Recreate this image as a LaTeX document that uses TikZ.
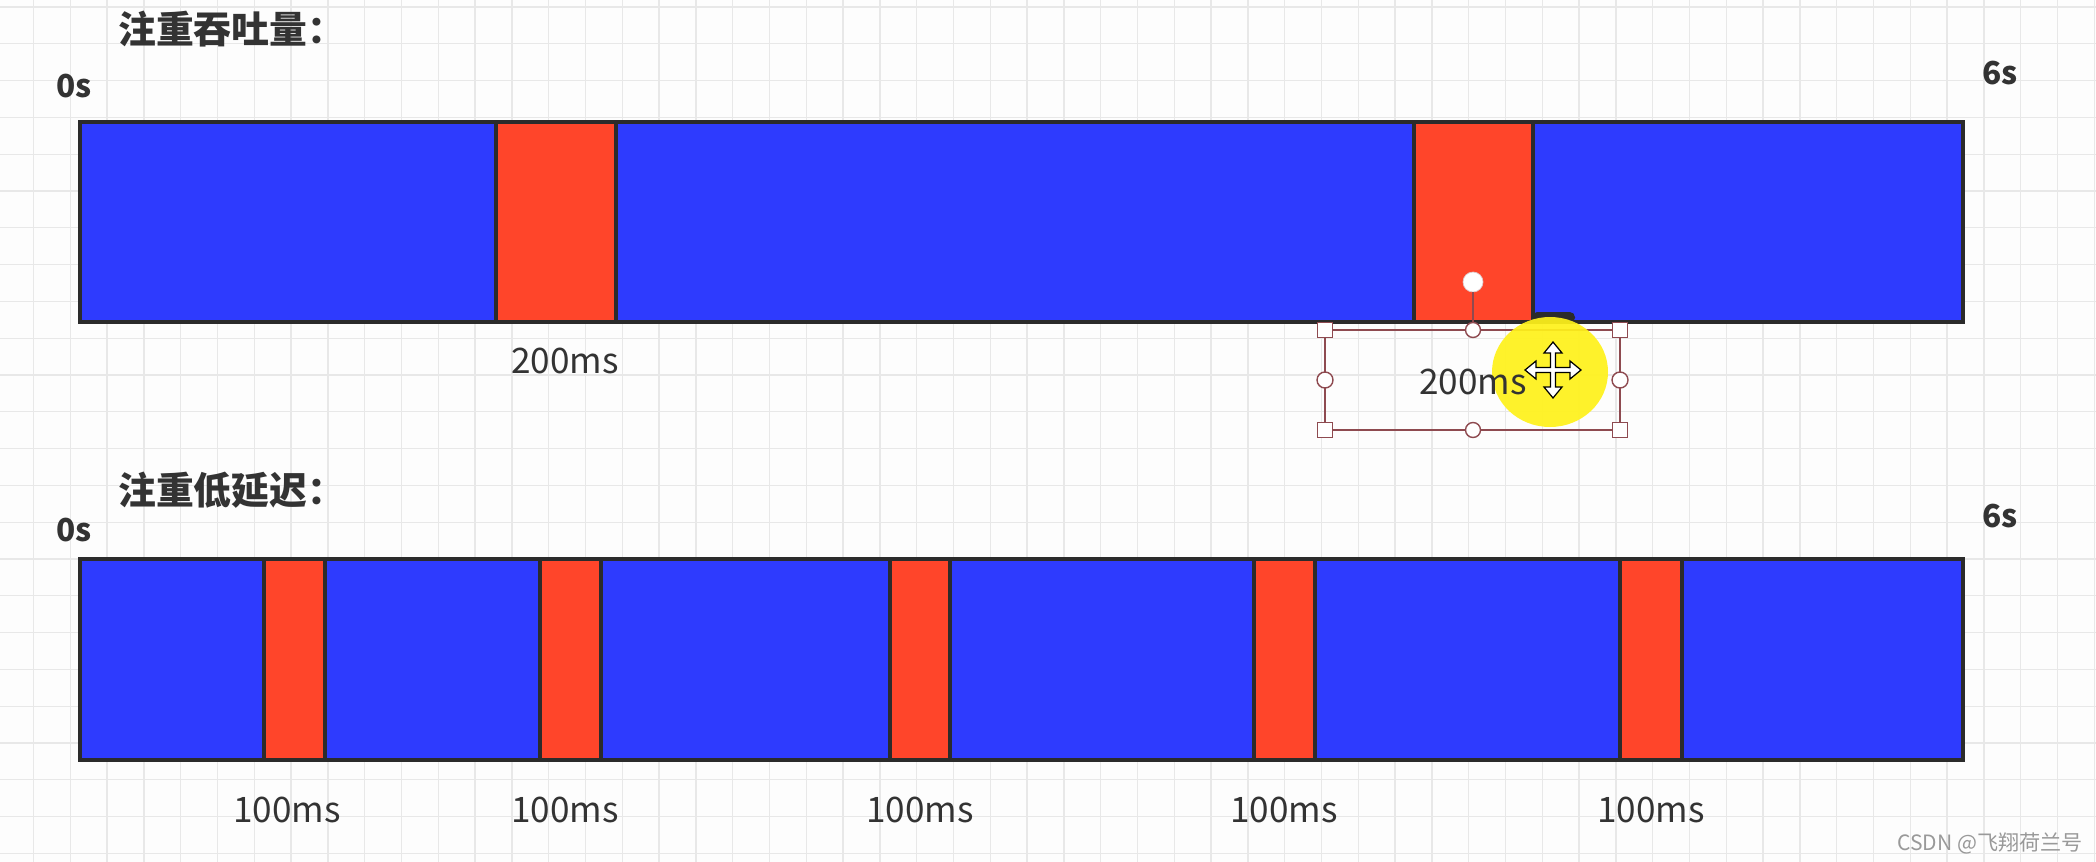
\documentclass[tikz,border=0pt]{standalone}
\usepackage{fontspec}
\setmainfont{Noto Sans CJK SC}
\usetikzlibrary{positioning}
\definecolor{PaperWhite}{HTML}{FDFDFD}
\definecolor{GridGray}{HTML}{E8E8E8}
\definecolor{BarBlue}{HTML}{2E3BFE}
\definecolor{PauseRed}{HTML}{FF452A}
\definecolor{EdgeDark}{HTML}{2B2B2B}
\definecolor{TextDark}{HTML}{333333}
\definecolor{HandleRed}{HTML}{8E4A50}
\definecolor{MarkYellow}{HTML}{FFF21A}

\begin{document}
\begin{tikzpicture}[
  x=0.02cm, y=-0.02cm,
  gridline/.style={draw=GridGray, line width=0.75pt},
  runbar/.style={fill=BarBlue, draw=EdgeDark, line width=2.2pt},
  pausebox/.style={fill=PauseRed, draw=EdgeDark, line width=2pt},
  title/.style={font=\bfseries\fontsize{21.5}{25}\selectfont, text=TextDark, anchor=west, inner sep=0pt},
  tick/.style={font=\bfseries\fontsize{18}{22}\selectfont, text=TextDark, inner sep=0pt},
  dur/.style={font=\fontsize{20}{24}\selectfont, text=TextDark, inner sep=0pt},
  frame/.style={draw=HandleRed, line width=0.8pt},
  handle/.style={frame, fill=white, inner sep=0pt, minimum size=0.3cm}
]
\useasboundingbox[fill=PaperWhite] (0,0) rectangle (2096,862);
% background grid
\foreach \k in {0,...,56}
  \draw[gridline] ({33.5+36.8*\k},0) -- ({33.5+36.8*\k},862);
\foreach \k in {0,...,23}
  \draw[gridline] (0,{7+36.8*\k}) -- (2096,{7+36.8*\k});

% throughput first
\node[title] (thrputTitle) at (118,29) {注重吞吐量：};
\node[tick] (zeroTop) at (74,86) {0s};
\node[tick] (sixTop) at (2000,73) {6s};
\draw[runbar] (80,122) rectangle (1963,322);
\foreach \a/\b in {496/616,1414/1533}
  \draw[pausebox] (\a,122) rectangle (\b,322);
\node[dur] (longPauseA) at (565,361) {200ms};

% low latency
\node[title] (latencyTitle) at (118,490) {注重低延迟：};
\node[tick] (zeroBot) at (74,530) {0s};
\node[tick] (sixBot) at (2000,516) {6s};
\draw[runbar] (80,559) rectangle (1963,760);
\foreach \a/\b in {264/325,540/601,890/950,1254/1315,1620/1682}
  \draw[pausebox] (\a,559) rectangle (\b,760);
\foreach \x [count=\i] in {287,565,920,1284,1651}
  \node[dur] (shortPause\i) at (\x,810) {100ms};

% selected label with its handles
\fill[EdgeDark, rounded corners=3pt] (1532,312) rectangle (1575,323);
\draw[frame] (1325,330) rectangle (1620,430);
\node[circle, fill=white, draw=HandleRed!30, minimum size=0.4cm, inner sep=0pt] (rotKnob) at (1473,282) {};
\node[handle, circle] (midN) at (1473,330) {};
\draw[frame] (rotKnob) -- (midN);
\node[handle, circle] (midS) at (1473,430) {};
\node[handle, circle, minimum height=0.32cm, minimum width=0.26cm] (midW) at (1325,380) {};
\node[handle, circle, minimum height=0.32cm, minimum width=0.26cm] (midE) at (1620,380) {};
\node[handle] (cornerNW) at (1325,330) {};
\node[handle] (cornerNE) at (1620,330) {};
\node[handle] (cornerSW) at (1325,430) {};
\node[handle] (cornerSE) at (1620,430) {};
\fill[MarkYellow, opacity=0.92] (1550,372) ellipse [x radius=58, y radius=55];
\node[dur] (longPauseB) at (1473,382) {200ms};
% move cursor
\begin{scope}[shift={(1553,370)}]
\draw[fill=white, draw=black, line width=0.7pt, line join=miter]
  (0,-28) -- (9,-17) -- (2.5,-17) -- (2.5,-2.5) -- (17,-2.5) -- (17,-9) -- (28,0)
  -- (17,9) -- (17,2.5) -- (2.5,2.5) -- (2.5,17) -- (9,17) -- (0,28) -- (-9,17)
  -- (-2.5,17) -- (-2.5,2.5) -- (-17,2.5) -- (-17,9) -- (-28,0) -- (-17,-9)
  -- (-17,-2.5) -- (-2.5,-2.5) -- (-2.5,-17) -- (-9,-17) -- cycle;
\end{scope}

\node[font=\fontsize{12}{14}\selectfont, text=gray!80] (credit) at (1990,843) {CSDN @飞翔荷兰号};
\end{tikzpicture}
\end{document}
